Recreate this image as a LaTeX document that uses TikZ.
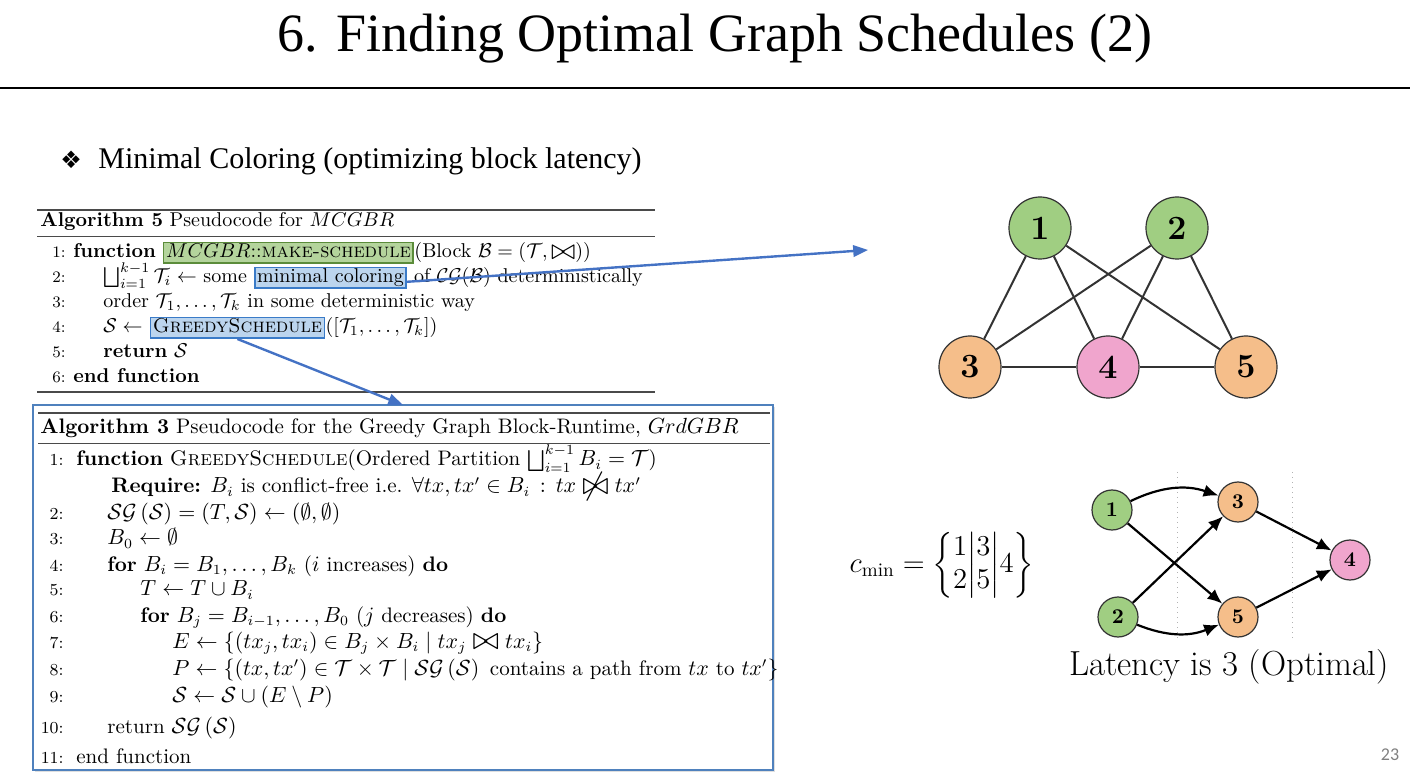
\documentclass[tikz,border=0pt]{standalone}
\usepackage{amsmath,amssymb}
\usepackage{fontspec}
\usetikzlibrary{arrows.meta,calc,positioning,shadows}
\newfontfamily\slidefont{Liberation Serif}
\newfontfamily\symfont{DejaVu Sans}
\newfontfamily\pagefont{Carlito}
\definecolor{markGF}{HTML}{B4D49C}
\definecolor{markGD}{HTML}{5B8C3A}
\definecolor{markBF}{HTML}{BCD5EE}
\definecolor{markBD}{HTML}{3A7BC8}
\definecolor{arrB}{HTML}{4472C4}
\definecolor{frameB}{HTML}{4F81BD}
\definecolor{ruleC}{HTML}{4A4A4A}
\definecolor{greenV}{HTML}{A0CE82}
\definecolor{orangeV}{HTML}{F5BE8A}
\definecolor{pinkV}{HTML}{F0A5CD}
\definecolor{edgeC}{HTML}{333333}
\newcommand\clash{\mathrel{\raisebox{-0.6pt}{\scalebox{1.45}{$\bowtie$}}}}
\newcommand\noclash{\mathrel{\raisebox{-0.6pt}{\scalebox{1.45}{$\not\bowtie$}}}}
\tikzset{
  alg/.style={anchor=base west, inner sep=0pt, font=\fontsize{10.5}{12.5}\selectfont},
  alg5/.style={alg, font=\fontsize{10}{12}\selectfont},
  lno/.style={anchor=base east, inner sep=0pt, font=\fontsize{8.4}{10}\selectfont},
  lno5/.style={lno, font=\fontsize{8}{10}\selectfont},
  hilite/.style={alg5, inner xsep=1.2pt, inner ysep=0.6pt, text height=7.2pt, text depth=2pt, line width=0.8pt},
  hiliteG/.style={hilite, fill=markGF, draw=markGD},
  hiliteB/.style={hilite, fill=markBF, draw=markBD},
  thickrule/.style={draw=ruleC, line width=0.8pt},
  thinrule/.style={draw=ruleC, line width=0.4pt},
  frame3/.style={draw=frameB, line width=0.9pt, fill=white, minimum width=370pt, minimum height=182.5pt,
                 inner sep=0pt, drop shadow={opacity=0.25, shadow xshift=1.2pt, shadow yshift=-1.2pt}},
  barr/.style={-{Triangle[length=2.6mm,width=2mm]}, draw=arrB, line width=1.2pt},
  vtx/.style={circle, draw=edgeC, line width=0.6pt, minimum size=31pt, inner sep=0pt,
              font=\fontsize{17}{17}\selectfont\bfseries},
  svtx/.style={vtx, minimum size=20pt, font=\fontsize{10.5}{11}\selectfont\bfseries},
  link/.style={draw=edgeC, line width=1pt},
  sarr/.style={-{Latex[length=2.6mm,width=2.2mm]}, draw=black, line width=1.1pt},
}

\begin{document}
\begin{tikzpicture}[x=0.5pt, y=-0.5pt]
\useasboundingbox (0,0) rectangle (1410,775);
% slide head
\node[font=\slidefont\fontsize{27}{32}\selectfont] (title) at (715,39) {6. Finding Optimal Graph Schedules (2)};
\draw[line width=1pt] (0,88) -- (1410,88);
\node[anchor=base west, inner sep=0pt, font=\symfont\fontsize{12}{12}\selectfont] (bul) at (60,169) {❖};
\node[anchor=base west, inner sep=0pt, font=\slidefont\fontsize{15}{18}\selectfont] (point) at (98,169) {Minimal Coloring (optimizing block latency)};

% Algorithm 5
\draw[thickrule] (37,210) -- (655,210);
\node[alg5] (a5cap) at (40,227) {\textbf{Algorithm 5} Pseudocode for $MCGBR$};
\draw[thinrule] (37,236) -- (655,236);
\node[lno5] (a5n1) at (66,258) {1:};
\node[alg5] (a5f1) at (73,258) {\textbf{function}};
\node[hiliteG] (mkSched) at ([xshift=3.3pt]a5f1.base east) {$MCGBR$::\textsc{make-schedule}};
\node[alg5] (a5r1) at (mkSched.base east) {(Block $\mathcal{B} = (\mathcal{T},\clash)$)};
\node[lno5] (a5n2) at (66,283) {2:};
\node[alg5] (a5l2) at (103,283) {$\bigsqcup_{i=1}^{k-1}\mathcal{T}_i \leftarrow$ some};
\node[hiliteB] (minCol) at ([xshift=3.3pt]a5l2.base east) {minimal coloring};
\node[alg5] (a5r2) at (minCol.base east) {\ of $\mathcal{CG}(\mathcal{B})$ deterministically};
\node[lno5] (a5n3) at (66,308) {3:};
\node[alg5] (a5l3) at (103,308) {order $\mathcal{T}_1,\dots,\mathcal{T}_k$ in some deterministic way};
\node[lno5] (a5n4) at (66,333) {4:};
\node[alg5] (a5l4) at (103,333) {$\mathcal{S} \leftarrow$};
\node[hiliteB] (greedy) at ([xshift=3.3pt]a5l4.base east) {\textsc{GreedySchedule}};
\node[alg5] (a5r4) at (greedy.base east) {($[\mathcal{T}_1,\dots,\mathcal{T}_k]$)};
\node[lno5] (a5n5) at (66,358) {5:};
\node[alg5] (a5l5) at (103,358) {\textbf{return} $\mathcal{S}$};
\node[lno5] (a5n6) at (66,383) {6:};
\node[alg5] (a5l6) at (73,383) {\textbf{end function}};
\draw[thickrule] (37,392) -- (655,392);

% Algorithm 3, in its frame
\node[frame3] (algBox) at (403,587.5) {};
\draw[thickrule] (38,413) -- (770,413);
\node[alg] (a3cap) at (40,434) {\textbf{Algorithm 3} Pseudocode for the Greedy Graph Block-Runtime, $GrdGBR$};
\draw[thinrule] (38,443) -- (770,443);
\node[lno] (a3n1) at (64,466) {1:};
\node[alg] (a3l1) at (76,466) {\textbf{function} \textsc{GreedySchedule}(Ordered Partition $\bigsqcup_{i=1}^{k-1} B_i = \mathcal{T}$)};
\node[alg] (a3req) at (111,493) {\textbf{Require:} $B_i$ is conflict-free i.e. $\forall tx, tx' \in B_i \,:\, tx \noclash tx'$};
\node[lno] (a3n2) at (64,520) {2:};
\node[alg] (a3l2) at (107,520) {$\mathcal{SG}\left(\mathcal{S}\right) = (T,\mathcal{S}) \leftarrow (\emptyset,\emptyset)$};
\node[lno] (a3n3) at (64,545) {3:};
\node[alg] (a3l3) at (107,545) {$B_0 \leftarrow \emptyset$};
\node[lno] (a3n4) at (64,571) {4:};
\node[alg] (a3l4) at (107,571) {\textbf{for} $B_i = B_1,\dots,B_k$ ($i$ increases) \textbf{do}};
\node[lno] (a3n5) at (64,596) {5:};
\node[alg] (a3l5) at (140,596) {$T \leftarrow T \cup B_i$};
\node[lno] (a3n6) at (64,622) {6:};
\node[alg] (a3l6) at (140,622) {\textbf{for} $B_j = B_{i-1},\dots,B_0$ ($j$ decreases) \textbf{do}};
\node[lno] (a3n7) at (64,648) {7:};
\node[alg] (a3l7) at (172,648) {$E \leftarrow \left\{(tx_j,tx_i) \in B_j \times B_i \;\middle|\; tx_j \clash tx_i\right\}$};
\node[lno] (a3n8) at (64,675) {8:};
\node[alg] (a3l8) at (172,675) {$P \leftarrow \left\{(tx,tx') \in \mathcal{T}\times\mathcal{T} \;\middle|\; \mathcal{SG}\left(\mathcal{S}\right)\ \text{contains a path from } tx \text{ to } tx'\right\}$};
\node[lno] (a3n9) at (64,702) {9:};
\node[alg] (a3l9) at (172,702) {$\mathcal{S} \leftarrow \mathcal{S} \cup (E \setminus P)$};
\node[lno] (a3n10) at (64,733) {10:};
\node[alg] (a3l10) at (107,733) {return $\mathcal{SG}\left(\mathcal{S}\right)$};
\node[lno] (a3n11) at (64,763) {11:};
\node[alg] (a3l11) at (76,763) {end function};

% pointers
\coordinate (graphIn) at (868,250);
\coordinate (alg3In) at (403,405);
\draw[barr] ([yshift=-2pt]minCol.east) -- (graphIn);
\draw[barr] (greedy.south) -- (alg3In);

% conflict graph
\node[vtx, fill=greenV] (u1) at (1040,228) {1};
\node[vtx, fill=greenV] (u2) at (1177,228) {2};
\node[vtx, fill=orangeV] (u3) at (970,367) {3};
\node[vtx, fill=pinkV] (u4) at (1108,367) {4};
\node[vtx, fill=orangeV] (u5) at (1246,367) {5};
\foreach \a/\b in {u1/u3,u1/u4,u1/u5,u2/u3,u2/u4,u2/u5,u3/u4,u4/u5}
  \draw[link] (\a) -- (\b);

% schedule
\node (cmin) at (942,565) {\fontsize{13.7}{16.5}\selectfont$c_{\min} = \left\{\begin{matrix}1\\2\end{matrix}\middle|\begin{matrix}3\\5\end{matrix}\middle|4\right\}$};
\draw[gray!60, dotted, line width=0.5pt] (1177,472) -- (1177,638);
\draw[gray!60, dotted, line width=0.5pt] (1292,472) -- (1292,638);
\node[svtx, fill=greenV] (s1) at (1112,510) {1};
\node[svtx, fill=greenV] (s2) at (1118,617) {2};
\node[svtx, fill=orangeV] (s3) at (1238,502) {3};
\node[svtx, fill=orangeV] (s5) at (1238,617) {5};
\node[svtx, fill=pinkV] (s4) at (1350,560) {4};
\draw[sarr] (s1) to[bend left=22] (s3);
\draw[sarr] (s1) -- (s5);
\draw[sarr] (s2) -- (s3);
\draw[sarr] (s2) to[bend right=22] (s5);
\draw[sarr] (s3) -- (s4);
\draw[sarr] (s5) -- (s4);
\node[font=\fontsize{17.4}{20}\selectfont] (latency) at (1229,667) {Latency is 3 (Optimal)};

\node[font=\pagefont\fontsize{9}{10}\selectfont, text=gray] (pgno) at (1390,755) {23};
\end{tikzpicture}
\end{document}
